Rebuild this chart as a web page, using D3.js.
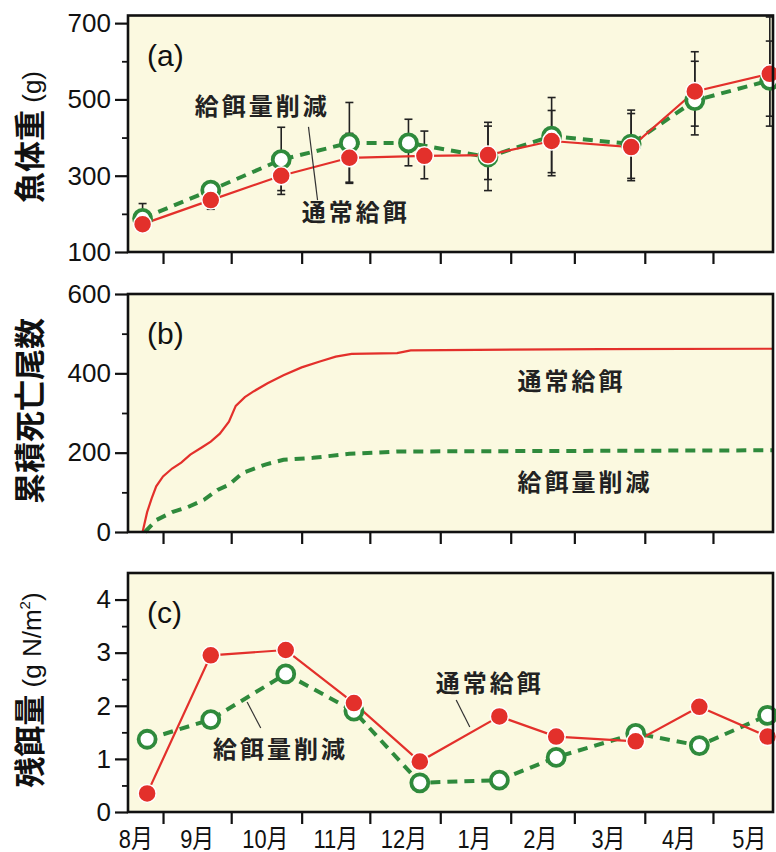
<!DOCTYPE html>
<html>
<head>
<meta charset="utf-8">
<script src="https://cdn.jsdelivr.net/npm/d3@7"></script>
<style>
  body { margin: 0; background: #fff; }
  svg { display: block; }
</style>
</head>
<body>
<div id="chart"></div>
<script>
// --- data ---
var monthTicks = ["2010-09-01", "2010-10-01", "2010-11-01", "2010-12-01", "2011-01-01",
                  "2011-02-01", "2011-03-01", "2011-04-01", "2011-05-01"];
var monthLabels = ["8月", "9月", "10月", "11月", "12月", "1月", "2月", "3月", "4月", "5月"];
var monthLabelDates = ["2010-08-20", "2010-09-16", "2010-10-16", "2010-11-16", "2010-12-16",
                       "2011-01-16", "2011-02-14", "2011-03-16", "2011-04-16", "2011-05-17"];

// (a) fish weight (g)
var weightDatesNormal = ["2010-08-23", "2010-09-22", "2010-10-23", "2010-11-22", "2010-12-25",
                         "2011-01-22", "2011-02-19", "2011-03-26", "2011-04-23", "2011-05-26"];
var weightDatesReduced = ["2010-08-23", "2010-09-22", "2010-10-23", "2010-11-22", "2010-12-18",
                          "2011-01-22", "2011-02-19", "2011-03-26", "2011-04-23", "2011-05-26"];
var weightNormal = [173, 236, 300, 347, 352, 354, 391, 375, 521, 567];
var weightNormalLo = [152, 212, 251, 283, 292, 290, 308, 287, 407, 456];
var weightNormalHi = [195, 260, 349, 411, 417, 430, 471, 463, 625, 653];
var weightReduced = [188, 262, 342, 386, 386, 349, 404, 383, 497, 550];
var weightReducedLo = [160, 240, 261, 280, 326, 261, 300, 293, 430, 430];
var weightReducedHi = [227, 282, 427, 492, 448, 440, 505, 472, 600, 716];

// (b) cumulative deaths
var deathDatesNormal = ["2010-08-23", "2010-08-25", "2010-08-27", "2010-08-29", "2010-09-01",
                        "2010-09-05", "2010-09-09", "2010-09-13", "2010-09-18", "2010-09-22",
                        "2010-09-26", "2010-09-30", "2010-10-03", "2010-10-07", "2010-10-11",
                        "2010-10-17", "2010-10-24", "2010-11-01", "2010-11-09", "2010-11-16",
                        "2010-11-23", "2010-12-13", "2010-12-19", "2011-03-13", "2011-05-27"];
var deathNormal = [0, 50, 85, 115, 140, 160, 175, 195, 213, 228, 248, 278, 318, 340, 355,
                   375, 395, 415, 430, 442, 449, 451, 458, 461, 462];
var deathDatesReduced = ["2010-08-24", "2010-08-29", "2010-09-05", "2010-09-12", "2010-09-19",
                         "2010-09-25", "2010-09-30", "2010-10-06", "2010-10-16", "2010-10-24",
                         "2010-11-06", "2010-11-22", "2010-12-14", "2011-05-27"];
var deathReduced = [0, 30, 50, 63, 81, 106, 119, 149, 170, 182, 187, 197, 203, 206];

// (c) residual feed (g N/m2)
var feedDates = ["2010-08-25", "2010-09-22", "2010-10-25", "2010-11-24", "2010-12-23",
                 "2011-01-27", "2011-02-21", "2011-03-28", "2011-04-25", "2011-05-25"];
var feedNormal = [0.35, 2.95, 3.05, 2.05, 0.95, 1.8, 1.42, 1.33, 1.98, 1.42];
var feedReduced = [1.37, 1.74, 2.6, 1.9, 0.55, 0.6, 1.03, 1.48, 1.25, 1.82];

// --- setup ---
var W = 776, H = 852;
var RED = "#e3302b", GREEN = "#2f8a3c", BG = "#fbf9e0";
var NUMFONT = "'Liberation Sans', Arial, sans-serif";
var JPFONT = "'Noto Sans CJK JP', sans-serif";
var parse = d3.utcParse("%Y-%m-%d");

var svg = d3.select("#chart").append("svg")
    .attr("width", W)
    .attr("height", H);

var x = d3.scaleUtc()
    .domain([new Date(Date.UTC(2010, 7, 16, 14)), new Date(Date.UTC(2011, 4, 27, 10))])
    .range([128, 773]);

var panels = [
  { key: "a", top: 15.5, bottom: 252, domain: [100, 720], major: [100, 300, 500, 700], minor: [200, 400, 600] },
  { key: "b", top: 294, bottom: 532, domain: [0, 600], major: [0, 200, 400, 600], minor: [100, 300, 500] },
  { key: "c", top: 573, bottom: 812, domain: [0, 4.5], major: [0, 1, 2, 3, 4], minor: [0.5, 1.5, 2.5, 3.5] }
];

panels.forEach(function(p) {
  p.y = d3.scaleLinear().domain(p.domain).range([p.bottom, p.top]);
  var g = svg.append("g");
  p.g = g;

  g.append("rect")
      .attr("x", x.range()[0])
      .attr("y", p.top)
      .attr("width", x.range()[1] - x.range()[0])
      .attr("height", p.bottom - p.top)
      .style("fill", BG);

  // y axis
  var yMajor = g.append("g")
      .attr("transform", "translate(" + x.range()[0] + ",0)")
      .call(d3.axisLeft(p.y).tickValues(p.major).tickSize(13).tickPadding(4).tickFormat(d3.format("~g")));
  yMajor.select(".domain").remove();
  yMajor.selectAll("line").style("stroke", "#111").style("stroke-width", 2.2);
  yMajor.selectAll("text")
      .style("font-family", NUMFONT)
      .style("font-size", "26px")
      .style("fill", "#111");

  var yMinor = g.append("g")
      .attr("transform", "translate(" + x.range()[0] + ",0)")
      .call(d3.axisLeft(p.y).tickValues(p.minor).tickSize(6).tickFormat(""));
  yMinor.select(".domain").remove();
  yMinor.selectAll("line").style("stroke", "#111").style("stroke-width", 1.8);

  // x axis ticks
  var xAx = g.append("g")
      .attr("transform", "translate(0," + p.bottom + ")")
      .call(d3.axisBottom(x).tickValues(monthTicks.map(parse)).tickSize(12).tickFormat(""));
  xAx.select(".domain").remove();
  xAx.selectAll("line").style("stroke", "#111").style("stroke-width", 2.2);

  p.plot = g.append("g");

  // frame
  g.append("rect")
      .attr("x", x.range()[0])
      .attr("y", p.top)
      .attr("width", x.range()[1] - x.range()[0])
      .attr("height", p.bottom - p.top)
      .style("fill", "none")
      .style("stroke", "#111")
      .style("stroke-width", 2.6);

  g.append("text")
      .attr("x", 147)
      .attr("y", p.top + 50)
      .text("(" + p.key + ")")
      .style("font-family", NUMFONT)
      .style("font-size", "30px")
      .style("fill", "#111");
});

// month labels
svg.append("g").selectAll("text")
    .data(monthLabels)
    .enter()
    .append("text")
      .attr("transform", function(d, i) {
        return "translate(" + x(parse(monthLabelDates[i])) + ",848) scale(0.84,1)";
      })
      .attr("text-anchor", "middle")
      .text(function(d) { return d; })
      .style("font-family", "'Liberation Sans', 'Noto Sans CJK JP', sans-serif")
      .style("font-size", "26px")
      .style("fill", "#111");

// axis titles
function yTitle(cy, parts) {
  var t = svg.append("text")
      .attr("transform", "translate(41," + cy + ") rotate(-90)")
      .attr("text-anchor", "middle")
      .style("fill", "#111");
  parts.forEach(function(pt) {
    var s = t.append("tspan")
        .text(pt.text)
        .style("font-family", pt.font)
        .style("font-size", pt.size)
        .style("font-weight", pt.weight || "normal");
    if (pt.dy) s.attr("dy", pt.dy);
  });
  return t;
}
yTitle(137, [
  { text: "魚体重", font: JPFONT, size: "31px", weight: "bold" },
  { text: " (g)", font: NUMFONT, size: "26px" }
]);
yTitle(411, [
  { text: "累積死亡尾数", font: JPFONT, size: "31px", weight: "bold" }
]);
yTitle(690, [
  { text: "残餌量", font: JPFONT, size: "31px", weight: "bold" },
  { text: " (g N/m", font: NUMFONT, size: "26px" },
  { text: "2", font: NUMFONT, size: "15px", dy: "-11" },
  { text: ")", font: NUMFONT, size: "26px", dy: "11" }
]);

// --- helpers ---
function series(dates, vals) {
  return dates.map(function(d, i) { return { date: parse(d), v: vals[i] }; });
}
function drawLine(p, data, color, width, dash) {
  var line = d3.line().x(function(d) { return x(d.date); }).y(function(d) { return p.y(d.v); });
  p.plot.append("path")
      .datum(data)
      .attr("d", line)
      .style("fill", "none")
      .style("stroke", color)
      .style("stroke-width", width)
      .style("stroke-dasharray", dash || null);
}
function drawRed(p, data) {
  p.plot.append("g").selectAll("circle")
      .data(data)
      .enter()
      .append("circle")
        .attr("cx", function(d) { return x(d.date); })
        .attr("cy", function(d) { return p.y(d.v); })
        .attr("r", 9)
        .style("fill", RED)
        .style("stroke", "#fff")
        .style("stroke-width", 1.5);
}
function drawGreen(p, data) {
  p.plot.append("g").selectAll("circle")
      .data(data)
      .enter()
      .append("circle")
        .attr("cx", function(d) { return x(d.date); })
        .attr("cy", function(d) { return p.y(d.v); })
        .attr("r", 8.5)
        .style("fill", "#fff")
        .style("stroke", GREEN)
        .style("stroke-width", 3.8);
}
function drawErr(p, dates, lo, hi) {
  var g = p.plot.append("g").style("stroke", "#222").style("stroke-width", 1.6);
  dates.forEach(function(d, i) {
    var cx = x(parse(d));
    g.append("line").attr("x1", cx).attr("x2", cx).attr("y1", p.y(lo[i])).attr("y2", p.y(hi[i]));
    g.append("line").attr("x1", cx - 4).attr("x2", cx + 4).attr("y1", p.y(lo[i])).attr("y2", p.y(lo[i]));
    g.append("line").attr("x1", cx - 4).attr("x2", cx + 4).attr("y1", p.y(hi[i])).attr("y2", p.y(hi[i]));
  });
}
function note(p, date, v, label) {
  p.plot.append("text")
      .attr("x", x(parse(date)))
      .attr("y", p.y(v))
      .text(label)
      .style("font-family", JPFONT)
      .style("font-size", "24px")
      .style("font-weight", "bold")
      .style("letter-spacing", "3px")
      .style("fill", "#222");
}
function leader(p, d1, v1, d2, v2) {
  p.plot.append("line")
      .attr("x1", x(parse(d1))).attr("y1", p.y(v1))
      .attr("x2", x(parse(d2))).attr("y2", p.y(v2))
      .style("stroke", "#333")
      .style("stroke-width", 1.2);
}

// --- panel a ---
var pa = panels[0];
drawErr(pa, weightDatesReduced, weightReducedLo, weightReducedHi);
drawErr(pa, weightDatesNormal, weightNormalLo, weightNormalHi);
var aRed = series(weightDatesNormal, weightNormal);
var aGreen = series(weightDatesReduced, weightReduced);
drawLine(pa, aGreen, GREEN, 4, "10,7");
drawLine(pa, aRed, RED, 2.2);
drawGreen(pa, aGreen);
drawRed(pa, aRed);
leader(pa, "2010-11-04", 428, "2010-11-08", 236);
note(pa, "2010-09-15", 459, "給餌量削減");
note(pa, "2010-11-01", 181, "通常給餌");

// --- panel b ---
var pb = panels[1];
drawLine(pb, series(deathDatesReduced, deathReduced), GREEN, 4, "10,7");
drawLine(pb, series(deathDatesNormal, deathNormal), RED, 2.2);
note(pb, "2011-02-04", 358, "通常給餌");
note(pb, "2011-02-04", 103, "給餌量削減");

// --- panel c ---
var pc = panels[2];
var cRed = series(feedDates, feedNormal);
var cGreen = series(feedDates, feedReduced);
drawLine(pc, cGreen, GREEN, 4, "10,7");
drawLine(pc, cRed, RED, 2.2);
drawGreen(pc, cGreen);
drawRed(pc, cRed);
leader(pc, "2011-01-08", 2.11, "2011-01-14", 1.6);
leader(pc, "2010-10-08", 2.07, "2010-10-14", 1.58);
note(pc, "2010-12-30", 2.26, "通常給餌");
note(pc, "2010-09-23", 1.02, "給餌量削減");
</script>
</body>
</html>
